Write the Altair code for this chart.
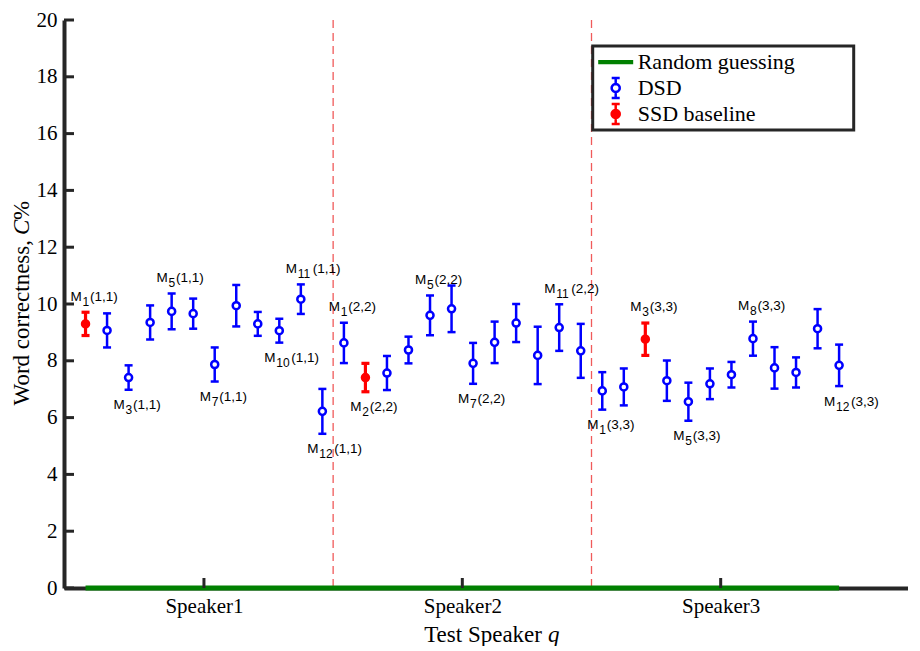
import json
import math
import altair as alt
import pandas as pd

# ---------------- data ----------------
speakers = ["Speaker1", "Speaker2", "Speaker3"]
models_per_speaker = 12
baseline_model = [1, 2, 3]          # SSD baseline model inside each test-speaker group

wc_speaker1 = [9.30, 9.07, 7.41, 9.35, 9.74, 9.66, 7.87, 9.94, 9.30, 9.06, 10.17, 6.22]
ci_speaker1 = [0.41, 0.60, 0.43, 0.60, 0.63, 0.53, 0.60, 0.73, 0.42, 0.42, 0.52, 0.79]
wc_speaker2 = [8.63, 7.41, 7.57, 8.38, 9.60, 9.83, 7.91, 8.65, 9.33, 8.19, 9.17, 8.35]
ci_speaker2 = [0.71, 0.50, 0.60, 0.47, 0.70, 0.82, 0.72, 0.73, 0.67, 1.01, 0.82, 0.95]
wc_speaker3 = [6.94, 7.08, 8.76, 7.30, 6.56, 7.19, 7.51, 8.78, 7.75, 7.59, 9.13, 7.84]
ci_speaker3 = [0.66, 0.65, 0.57, 0.71, 0.67, 0.54, 0.45, 0.60, 0.73, 0.53, 0.69, 0.73]
random_guessing = 0.0

annot_speaker = [1, 1, 1, 1, 1, 1, 1, 2, 2, 2, 2, 2, 3, 3, 3, 3, 3]
annot_model = [1, 3, 5, 7, 10, 11, 12, 1, 2, 5, 7, 11, 1, 3, 5, 8, 12]
annot_side = [1, -1, 1, -1, -1, 1, -1, 1, -1, 1, -1, 1, -1, 1, -1, 1, -1]

legend_names = ["Random guessing", "DSD", "SSD baseline"]
y_title_parts = ["Word correctness,", "C", "%"]
x_title_parts = ["Test Speaker", "q"]
y_tick_values = list(range(0, 21, 2))

# ---------------- styles ----------------
BLUE, RED, GREEN = "#0000ff", "#ff0000", "#008000"
SEP = "#f05a5a"
AXC = "#262626"
SERIF = "Liberation Serif"
SANS = "Liberation Sans"
W, H = 844, 568
TOP = 12

# ---------------- tables ----------------
wc = [wc_speaker1, wc_speaker2, wc_speaker3]
ci = [ci_speaker1, ci_speaker2, ci_speaker3]
rows = []
for s in range(3):
    for m in range(models_per_speaker):
        pos = s * models_per_speaker + m + 1
        rows.append({
            "pos": pos, "speaker": s + 1, "model": m + 1,
            "wc": wc[s][m], "lo": wc[s][m] - ci[s][m], "hi": wc[s][m] + ci[s][m],
            "err": ci[s][m],
            "series": "SSD baseline" if m + 1 == baseline_model[s] else "DSD",
        })
df = pd.DataFrame(rows)
dsd = df[df.series == "DSD"]
ssd = df[df.series == "SSD baseline"]

centers = [s * models_per_speaker + (models_per_speaker + 1) / 2 for s in range(3)]
seps = [s * models_per_speaker + 0.5 for s in range(1, 3)]
sep_df = pd.DataFrame({"x": seps})
ctr_df = pd.DataFrame({"x": centers})
rg_df = pd.DataFrame({"x": [1, 3 * models_per_speaker], "y": [random_guessing] * 2})
yt_df = pd.DataFrame({"v": y_tick_values})

lab = []
for s, m, side in zip(annot_speaker, annot_model, annot_side):
    r = df[(df.speaker == s) & (df.model == m)].iloc[0]
    lab.append({
        "x": r.pos - 0.7,
        "y": r.wc + side * (r.err + 0.55),
        "m": "M", "sub": str(m), "par": f"({s},{s})", "n": len(str(m)),
    })
lab_df = pd.DataFrame(lab)

# ---------------- scales / axes ----------------
x_scale = alt.Scale(domain=[0, 39.2], nice=False, zero=False)
y_scale = alt.Scale(domain=[0, 20], nice=False)
label_expr = f"{json.dumps(speakers)}[round((datum.value - {centers[0]}) / {models_per_speaker})]"
x_axis = alt.Axis(values=centers, labelExpr=label_expr, title=None, grid=False, ticks=False,
                  domainWidth=4, domainColor=AXC, labelFont=SERIF, labelFontSize=21,
                  labelColor="black", labelPadding=7, labelBaseline="top")
y_axis = alt.Axis(values=y_tick_values, title=None, grid=False, ticks=False,
                  domainWidth=4, domainColor=AXC, labelFont=SERIF, labelFontSize=21,
                  labelColor="black", labelPadding=7)


def X(f):
    return alt.X(f, type="quantitative", scale=x_scale, axis=x_axis)


def Y(f):
    return alt.Y(f, type="quantitative", scale=y_scale, axis=y_axis)


# ---------------- layers ----------------
sep_layer = alt.Chart(sep_df).mark_rule(color=SEP, strokeWidth=1.3, strokeDash=[8, 5]).encode(x=X("x"))
rg_layer = alt.Chart(rg_df).mark_line(color=GREEN, strokeWidth=5).encode(x=X("x"), y=Y("y"))


def errorbars(data, color, sw, size, filled):
    rule = alt.Chart(data).mark_rule(color=color, strokeWidth=sw).encode(x=X("pos"), y=Y("lo"), y2="hi")
    cap_lo = alt.Chart(data).mark_tick(color=color, orient="horizontal", size=8, thickness=sw,
                                       opacity=1).encode(x=X("pos"), y=Y("lo"))
    cap_hi = alt.Chart(data).mark_tick(color=color, orient="horizontal", size=8, thickness=sw,
                                       opacity=1).encode(x=X("pos"), y=Y("hi"))
    pt = alt.Chart(data).mark_point(shape="circle", size=size, stroke=color,
                                    fill=color if filled else "white", strokeWidth=2.5 if not filled else 2,
                                    opacity=1, filled=True).encode(x=X("pos"), y=Y("wc"))
    return [rule, cap_lo, cap_hi, pt]


dsd_layers = errorbars(dsd, BLUE, 2.5, 50, False)
ssd_layers = errorbars(ssd, RED, 3.2, 56, True)

lab_m = alt.Chart(lab_df).mark_text(align="left", baseline="middle", font=SANS, fontSize=13.5,
                                    color="black").encode(x=X("x"), y=Y("y"), text="m:N")
lab_sub = alt.Chart(lab_df).mark_text(align="left", baseline="middle", font=SANS, fontSize=12,
                                      color="black", dx=12, dy=5).encode(x=X("x"), y=Y("y"), text="sub:N")
lab_p1 = alt.Chart(lab_df[lab_df.n == 1]).mark_text(align="left", baseline="middle", font=SANS,
                                                     fontSize=13.5, color="black", dx=19.5).encode(
    x=X("x"), y=Y("y"), text="par:N")
lab_p2 = alt.Chart(lab_df[lab_df.n == 2]).mark_text(align="left", baseline="middle", font=SANS,
                                                     fontSize=13.5, color="black", dx=27).encode(
    x=X("x"), y=Y("y"), text="par:N")

ytick_layer = alt.Chart(yt_df).mark_rule(color=AXC, strokeWidth=3).encode(
    y=Y("v"), x=alt.value(0), x2=alt.value(10))
xtick_layer = alt.Chart(ctr_df).mark_rule(color=AXC, strokeWidth=3).encode(
    x=X("x"), y=alt.value(H - 10), y2=alt.value(H))

oy = 8 + TOP  # page y of the plot's top edge
yt1 = alt.Chart(pd.DataFrame({"t": [y_title_parts[0]]})).mark_text(
    angle=270, align="right", baseline="alphabetic", font=SERIF, fontSize=23, color="black").encode(
    text="t:N", x=alt.value(-35), y=alt.value(240 - oy))
yt2 = alt.Chart(pd.DataFrame({"t": [y_title_parts[1]]})).mark_text(
    angle=270, align="left", baseline="alphabetic", font=SERIF, fontSize=23, fontStyle="italic",
    color="black").encode(text="t:N", x=alt.value(-35), y=alt.value(235 - oy))
yt3 = alt.Chart(pd.DataFrame({"t": [y_title_parts[2]]})).mark_text(
    angle=270, align="left", baseline="alphabetic", font=SERIF, fontSize=23, color="black").encode(
    text="t:N", x=alt.value(-35), y=alt.value(220 - oy))
xt1 = alt.Chart(pd.DataFrame({"t": [x_title_parts[0]]})).mark_text(
    align="right", baseline="alphabetic", font=SERIF, fontSize=23, color="black").encode(
    text="t:N", x=alt.value(478), y=alt.value(642 - oy))
xt2 = alt.Chart(pd.DataFrame({"t": [x_title_parts[1]]})).mark_text(
    align="left", baseline="alphabetic", font=SERIF, fontSize=23, fontStyle="italic",
    color="black").encode(text="t:N", x=alt.value(484), y=alt.value(642 - oy))


# legend symbols (unit square paths)
def circle_path(r, n=20):
    pts = [(r * math.cos(2 * math.pi * k / n), r * math.sin(2 * math.pi * k / n)) for k in range(n)]
    return "M" + "L".join(f"{x:.3f},{y:.3f}" for x, y in pts) + "Z"


eb = "M0,-0.571L0,-0.23M-0.229,-0.571L0.229,-0.571M0,0.23L0,0.571M-0.229,0.571L0.229,0.571"
path_line = "M-1,-0.05L1,-0.05M-1,0L1,0M-1,0.05L1,0.05"
path_dsd = eb + circle_path(0.23)
path_ssd = eb + circle_path(0.23) + circle_path(0.14) + circle_path(0.06)

leg = alt.Legend(title=None, orient="none", legendX=528.7, legendY=46 - oy, direction="vertical",
                 padding=3, symbolOffset=1, labelOffset=3, symbolSize=1225, symbolStrokeWidth=2.5,
                 symbolOpacity=1, clipHeight=26, rowPadding=0, labelFont=SERIF, labelFontSize=22,
                 labelColor="black", fillColor="white", strokeColor=AXC, labelLimit=400,
                 labelExpr="datum.label + '\u2003\u2003\u2002\u200b'")
legend_layer = alt.Chart(pd.DataFrame({"series": legend_names})).mark_point(opacity=0).encode(
    color=alt.Color("series:N", scale=alt.Scale(domain=legend_names, range=[GREEN, BLUE, RED]), legend=leg),
    shape=alt.Shape("series:N", scale=alt.Scale(domain=legend_names, range=[path_line, path_dsd, path_ssd]),
                    legend=leg),
)

chart = alt.layer(
    sep_layer, *dsd_layers, *ssd_layers, rg_layer,
    lab_m, lab_sub, lab_p1, lab_p2, ytick_layer, xtick_layer,
    yt1, yt2, yt3, xt1, xt2, legend_layer,
).properties(
    width=W, height=H,
    autosize=alt.AutoSizeParams(type="none"),
    padding={"left": 56, "top": TOP, "right": 0, "bottom": 58},
).configure_view(strokeWidth=0).configure_legend(strokeWidth=3).configure_axis(
    labelFont=SERIF, labelFontSize=21, labelColor="black")

chart.save("out.html", embed_options={"renderer": "svg", "actions": False})
